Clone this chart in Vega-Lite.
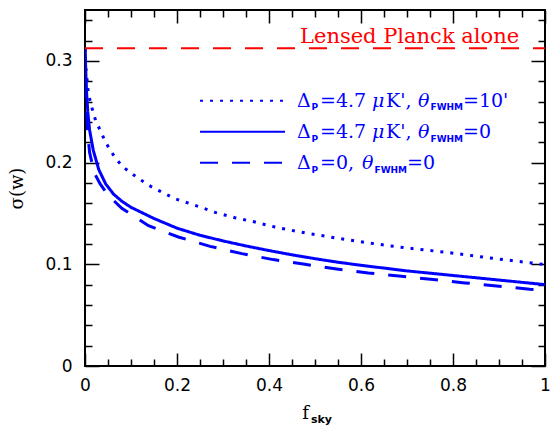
{
  "$schema": "https://vega.github.io/schema/vega-lite/v6.json",
  "width": 460,
  "height": 356,
  "autosize": "none",
  "padding": {"left": 85, "top": 10, "right": 5, "bottom": 60},
  "background": "white",
  "config": {
    "view": {"stroke": "black", "strokeWidth": 2},
    "axis": {
      "domain": false,
      "grid": false,
      "tickColor": "black",
      "tickWidth": 1.5,
      "labelColor": "black",
      "labelFont": "DejaVu Sans",
      "labelFontSize": 17,
      "labelFlush": false,
      "labelOverlap": false,
      "titleFont": "DejaVu Serif",
      "titleFontSize": 18,
      "titleFontWeight": "normal",
      "titleColor": "black"
    }
  },
  "datasets": {
    "curves": [
      {"s": "dotted", "x": 0, "y": 0.3124},
      {"s": "dotted", "x": 0.002, "y": 0.292},
      {"s": "dotted", "x": 0.005, "y": 0.279},
      {"s": "dotted", "x": 0.007, "y": 0.269},
      {"s": "dotted", "x": 0.012, "y": 0.259},
      {"s": "dotted", "x": 0.018, "y": 0.249},
      {"s": "dotted", "x": 0.024, "y": 0.24},
      {"s": "dotted", "x": 0.034, "y": 0.231},
      {"s": "dotted", "x": 0.043, "y": 0.2216},
      {"s": "dotted", "x": 0.054, "y": 0.2127},
      {"s": "dotted", "x": 0.067, "y": 0.204},
      {"s": "dotted", "x": 0.082, "y": 0.196},
      {"s": "dotted", "x": 0.099, "y": 0.19},
      {"s": "dotted", "x": 0.118, "y": 0.184},
      {"s": "dotted", "x": 0.137, "y": 0.178},
      {"s": "dotted", "x": 0.156, "y": 0.1735},
      {"s": "dotted", "x": 0.196, "y": 0.1644},
      {"s": "dotted", "x": 0.239, "y": 0.158},
      {"s": "dotted", "x": 0.283, "y": 0.151},
      {"s": "dotted", "x": 0.326, "y": 0.1458},
      {"s": "dotted", "x": 0.37, "y": 0.1415},
      {"s": "dotted", "x": 0.413, "y": 0.1366},
      {"s": "dotted", "x": 0.48, "y": 0.1307},
      {"s": "dotted", "x": 0.547, "y": 0.1258},
      {"s": "dotted", "x": 0.612, "y": 0.1213},
      {"s": "dotted", "x": 0.681, "y": 0.117},
      {"s": "dotted", "x": 0.793, "y": 0.1114},
      {"s": "dotted", "x": 0.88, "y": 0.1062},
      {"s": "dotted", "x": 0.971, "y": 0.1013},
      {"s": "dotted", "x": 1.0, "y": 0.0997},
      {"s": "solid", "x": 0, "y": 0.3124},
      {"s": "solid", "x": 0.001, "y": 0.3},
      {"s": "solid", "x": 0.003, "y": 0.272},
      {"s": "solid", "x": 0.006, "y": 0.25},
      {"s": "solid", "x": 0.01, "y": 0.232},
      {"s": "solid", "x": 0.018, "y": 0.212},
      {"s": "solid", "x": 0.03, "y": 0.193},
      {"s": "solid", "x": 0.045, "y": 0.179},
      {"s": "solid", "x": 0.062, "y": 0.169},
      {"s": "solid", "x": 0.08, "y": 0.162},
      {"s": "solid", "x": 0.1, "y": 0.156},
      {"s": "solid", "x": 0.15, "y": 0.145},
      {"s": "solid", "x": 0.2, "y": 0.1355},
      {"s": "solid", "x": 0.25, "y": 0.1285},
      {"s": "solid", "x": 0.3, "y": 0.123},
      {"s": "solid", "x": 0.35, "y": 0.118},
      {"s": "solid", "x": 0.4, "y": 0.1135},
      {"s": "solid", "x": 0.45, "y": 0.1093},
      {"s": "solid", "x": 0.5, "y": 0.1055},
      {"s": "solid", "x": 0.55, "y": 0.102},
      {"s": "solid", "x": 0.6, "y": 0.099},
      {"s": "solid", "x": 0.7, "y": 0.0935},
      {"s": "solid", "x": 0.8, "y": 0.089},
      {"s": "solid", "x": 0.9, "y": 0.0845},
      {"s": "solid", "x": 1.0, "y": 0.08},
      {"s": "dashed", "x": 0, "y": 0.3124},
      {"s": "dashed", "x": 0.001, "y": 0.29},
      {"s": "dashed", "x": 0.003, "y": 0.255},
      {"s": "dashed", "x": 0.006, "y": 0.228},
      {"s": "dashed", "x": 0.01, "y": 0.21},
      {"s": "dashed", "x": 0.02, "y": 0.19},
      {"s": "dashed", "x": 0.033, "y": 0.179},
      {"s": "dashed", "x": 0.05, "y": 0.168},
      {"s": "dashed", "x": 0.08, "y": 0.155},
      {"s": "dashed", "x": 0.138, "y": 0.138},
      {"s": "dashed", "x": 0.203, "y": 0.1268},
      {"s": "dashed", "x": 0.272, "y": 0.1176},
      {"s": "dashed", "x": 0.341, "y": 0.1105},
      {"s": "dashed", "x": 0.409, "y": 0.1046},
      {"s": "dashed", "x": 0.478, "y": 0.1},
      {"s": "dashed", "x": 0.547, "y": 0.0954},
      {"s": "dashed", "x": 0.616, "y": 0.0915},
      {"s": "dashed", "x": 0.688, "y": 0.0882},
      {"s": "dashed", "x": 0.757, "y": 0.085},
      {"s": "dashed", "x": 0.826, "y": 0.0817},
      {"s": "dashed", "x": 0.895, "y": 0.0787},
      {"s": "dashed", "x": 0.967, "y": 0.0755},
      {"s": "dashed", "x": 1.0, "y": 0.0745}
    ],
    "samples": [
      {"s": "dotted", "x": 0.25, "y": 0.2609},
      {"s": "dotted", "x": 0.4348, "y": 0.2609},
      {"s": "solid", "x": 0.25, "y": 0.2304},
      {"s": "solid", "x": 0.4348, "y": 0.2304},
      {"s": "dashed", "x": 0.25, "y": 0.1999},
      {"s": "dashed", "x": 0.4348, "y": 0.1999}
    ],
    "planck": [
      {"x": 0, "y": 0.3124},
      {"x": 1, "y": 0.3124}
    ],
    "planckLabel": [
      {"x": 0.4674, "y": 0.3176, "t": "Lensed Planck alone"}
    ],
    "mainText": [
      {"x": 0.4609, "y": 0.255, "t": "Δ"},
      {"x": 0.5109, "y": 0.255, "t": "=4.7"},
      {"x": 0.6543, "y": 0.255, "t": "K',"},
      {"x": 0.8217, "y": 0.255, "t": "=10'"},
      {"x": 0.4609, "y": 0.2239, "t": "Δ"},
      {"x": 0.5109, "y": 0.2239, "t": "=4.7"},
      {"x": 0.6543, "y": 0.2239, "t": "K',"},
      {"x": 0.8217, "y": 0.2239, "t": "=0"},
      {"x": 0.4609, "y": 0.1934, "t": "Δ"},
      {"x": 0.5109, "y": 0.1934, "t": "=0,"},
      {"x": 0.7, "y": 0.1934, "t": "=0"}
    ],
    "italicText": [
      {"x": 0.6239, "y": 0.255, "t": "μ"},
      {"x": 0.7239, "y": 0.255, "t": "θ"},
      {"x": 0.6239, "y": 0.2239, "t": "μ"},
      {"x": 0.7239, "y": 0.2239, "t": "θ"},
      {"x": 0.6022, "y": 0.1934, "t": "θ"}
    ],
    "subText": [
      {"x": 0.4924, "y": 0.2512, "t": "P"},
      {"x": 0.7511, "y": 0.2512, "t": "FWHM"},
      {"x": 0.4924, "y": 0.2202, "t": "P"},
      {"x": 0.7511, "y": 0.2202, "t": "FWHM"},
      {"x": 0.4924, "y": 0.1898, "t": "P"},
      {"x": 0.6293, "y": 0.1898, "t": "FWHM"}
    ],
    "xSub": [
      {"x": 0.4913, "y": -0.056, "t": "sky"}
    ]
  },
  "resolve": {"axis": {"x": "independent", "y": "independent"}},
  "layer": [
    {
      "data": {"name": "curves"},
      "mark": {"type": "line", "color": "#0000ff", "strokeWidth": 3, "strokeCap": "butt", "clip": true},
      "encoding": {
        "x": {"field": "x", "type": "quantitative", "scale": {"domain": [0, 1], "nice": false, "zero": false},
              "axis": {"orient": "bottom", "values": [0, 0.2, 0.4, 0.6, 0.8, 1], "labelExpr": "datum.value", "tickSize": -13, "labelPadding": 24, "title": "f", "titleX": 220, "titleY": 52, "titleBaseline": "alphabetic", "titleAlign": "center"}},
        "y": {"field": "y", "type": "quantitative", "scale": {"domain": [0, 0.35], "nice": false, "zero": false},
              "axis": {"orient": "left", "values": [0, 0.1, 0.2, 0.3], "labelExpr": "datum.value", "tickSize": -14, "labelPadding": 27, "title": "σ(w)", "titleX": -68, "titleY": 178, "titleAlign": "center", "titleBaseline": "middle", "titleAngle": -90}},
        "strokeDash": {"field": "s", "type": "nominal", "scale": {"domain": ["dotted", "solid", "dashed"], "range": [[3, 7], [1, 0], [18, 14]]}, "legend": null},
        "detail": {"field": "s"}
      }
    },
    {
      "data": {"name": "planck"},
      "mark": {"type": "line", "color": "#ff0000", "strokeWidth": 2, "strokeDash": [18, 14], "strokeCap": "butt"},
      "encoding": {
        "x": {"field": "x", "type": "quantitative", "scale": {"domain": [0, 1], "nice": false, "zero": false},
              "axis": {"orient": "bottom", "values": [0.05, 0.1, 0.15, 0.25, 0.3, 0.35, 0.45, 0.5, 0.55, 0.65, 0.7, 0.75, 0.85, 0.9, 0.95], "labels": false, "tickSize": -7, "title": null}},
        "y": {"field": "y", "type": "quantitative", "scale": {"domain": [0, 0.35], "nice": false, "zero": false},
              "axis": {"orient": "left", "values": [0.02, 0.04, 0.06, 0.08, 0.12, 0.14, 0.16, 0.18, 0.22, 0.24, 0.26, 0.28, 0.32, 0.34], "labels": false, "tickSize": -7, "title": null}}
      }
    },
    {
      "data": {"name": "samples"},
      "mark": {"type": "line", "color": "#0000ff", "strokeWidth": 2, "strokeCap": "butt"},
      "encoding": {
        "x": {"field": "x", "type": "quantitative", "scale": {"domain": [0, 1], "nice": false, "zero": false},
              "axis": {"orient": "top", "values": [0, 0.2, 0.4, 0.6, 0.8, 1], "labels": false, "tickSize": -13, "title": null}},
        "y": {"field": "y", "type": "quantitative", "scale": {"domain": [0, 0.35], "nice": false, "zero": false},
              "axis": {"orient": "right", "values": [0, 0.1, 0.2, 0.3], "labels": false, "tickSize": -14, "title": null}},
        "strokeDash": {"field": "s", "type": "nominal", "scale": {"domain": ["dotted", "solid", "dashed"], "range": [[3, 7], [1, 0], [18, 14]]}, "legend": null},
        "detail": {"field": "s"}
      }
    },
    {
      "data": {"name": "planckLabel"},
      "mark": {"type": "text", "color": "#ff0000", "font": "DejaVu Serif", "fontSize": 21, "align": "left", "baseline": "alphabetic"},
      "encoding": {
        "x": {"field": "x", "type": "quantitative", "scale": {"domain": [0, 1], "nice": false, "zero": false},
              "axis": {"orient": "top", "values": [0.05, 0.1, 0.15, 0.25, 0.3, 0.35, 0.45, 0.5, 0.55, 0.65, 0.7, 0.75, 0.85, 0.9, 0.95], "labels": false, "tickSize": -7, "title": null}},
        "y": {"field": "y", "type": "quantitative", "scale": {"domain": [0, 0.35], "nice": false, "zero": false},
              "axis": {"orient": "right", "values": [0.02, 0.04, 0.06, 0.08, 0.12, 0.14, 0.16, 0.18, 0.22, 0.24, 0.26, 0.28, 0.32, 0.34], "labels": false, "tickSize": -7, "title": null}},
        "text": {"field": "t"}
      }
    },
    {
      "data": {"name": "mainText"},
      "mark": {"type": "text", "color": "#0000ff", "font": "DejaVu Serif", "fontSize": 19, "align": "left", "baseline": "alphabetic"},
      "encoding": {
        "x": {"field": "x", "type": "quantitative", "scale": {"domain": [0, 1], "nice": false, "zero": false}, "axis": null},
        "y": {"field": "y", "type": "quantitative", "scale": {"domain": [0, 0.35], "nice": false, "zero": false}, "axis": null},
        "text": {"field": "t"}
      }
    },
    {
      "data": {"name": "italicText"},
      "mark": {"type": "text", "color": "#0000ff", "font": "DejaVu Serif", "fontStyle": "italic", "fontSize": 19, "align": "left", "baseline": "alphabetic"},
      "encoding": {
        "x": {"field": "x", "type": "quantitative", "scale": {"domain": [0, 1], "nice": false, "zero": false}, "axis": null},
        "y": {"field": "y", "type": "quantitative", "scale": {"domain": [0, 0.35], "nice": false, "zero": false}, "axis": null},
        "text": {"field": "t"}
      }
    },
    {
      "data": {"name": "subText"},
      "mark": {"type": "text", "color": "#0000ff", "font": "DejaVu Sans", "fontWeight": "bold", "fontSize": 9, "align": "left", "baseline": "alphabetic"},
      "encoding": {
        "x": {"field": "x", "type": "quantitative", "scale": {"domain": [0, 1], "nice": false, "zero": false}, "axis": null},
        "y": {"field": "y", "type": "quantitative", "scale": {"domain": [0, 0.35], "nice": false, "zero": false}, "axis": null},
        "text": {"field": "t"}
      }
    },
    {
      "data": {"name": "xSub"},
      "mark": {"type": "text", "color": "black", "font": "DejaVu Sans", "fontWeight": "bold", "fontSize": 11, "align": "left", "baseline": "alphabetic"},
      "encoding": {
        "x": {"field": "x", "type": "quantitative", "scale": {"domain": [0, 1], "nice": false, "zero": false}, "axis": null},
        "y": {"field": "y", "type": "quantitative", "scale": {"domain": [0, 0.35], "nice": false, "zero": false}, "axis": null},
        "text": {"field": "t"}
      }
    }
  ]
}
